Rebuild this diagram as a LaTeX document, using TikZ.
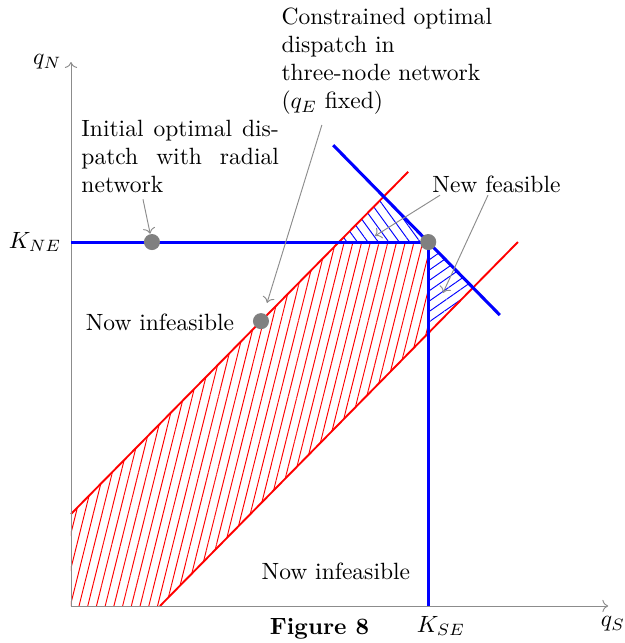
\documentclass[tikz,border=0pt]{standalone}
\usepackage{amsmath}
\usetikzlibrary{arrows.meta,patterns.meta}
\definecolor{axisgray}{HTML}{8C8C8C}
\definecolor{dotgray}{HTML}{808080}
\tikzset{axis/.style={->,thin,axisgray},
kline/.style={blue,line width=1.3pt},
tline/.style={red,line width=.8pt},
redhatch/.style={pattern={Lines[angle=76,distance=3.6pt,line width=.4pt]},pattern color=red},
bluehatch/.style={pattern={Lines[angle=#1,distance=3.6pt,line width=.4pt]},pattern color=blue},
optpt/.style={circle,fill=dotgray,inner sep=0pt,minimum size=.24cm},
lead/.style={->,thin,axisgray},
note/.style={inner sep=0pt,align=left}}

\begin{document}
\begin{tikzpicture}
\useasboundingbox (-1.061,-.553) rectangle (8.266,9.058);
\fill[redhatch] (0,0)--(0,1.375)--(4.005,5.44)--(5.34,5.44)--(5.34,4.078)--(1.33,0)--cycle;
\fill[bluehatch=-54] (4.005,5.44)--(4.674,6.119)--(5.34,5.44)--cycle;
\fill[bluehatch=35] (5.34,5.44)--(6.009,4.758)--(5.34,4.078)--cycle;
\draw[tline] (0,1.375)--(5.04,6.49);
\draw[tline] (1.33,0)--(6.68,5.44);
\draw[axis] (0,0)--(8.03,0);
\draw[axis] (0,0)--(0,8.13);
\draw[kline] (0,5.44)--(5.34,5.44)--(5.34,0);
\draw[kline] (3.92,6.888)--(6.41,4.349);
\node[anchor=east] (qn) at (-.02,8.13) {$q_N$};
\node[anchor=east] (kne) at (-.02,5.44) {$K_{NE}$};
\node (kse) at (5.53,-.30) {$K_{SE}$};
\node (qs) at (8.1,-.27) {$q_S$};
\node (fig) at (3.715,-.344) {\textbf{Figure 8}};
\node[optpt] (radial) at (1.21,5.44) {};
\node[optpt] (meshed) at (2.84,4.258) {};
\node[optpt] (corner) at (5.34,5.44) {};
\node[note,anchor=north west,text width=2.95cm] (initial) at (.15,7.27) {Initial\hfill optimal\hfill dis-\\patch\hfill with\hfill radial\\network};
\node[note,anchor=north west] (constr) at (3.14,8.95) {Constrained optimal\\dispatch in\\three-node network\\($q_E$ fixed)};
\node (infeasup) at (1.33,4.245) {Now infeasible};
\node (infeaslow) at (3.96,.52) {Now infeasible};
\node (newfeas) at (6.36,6.31) {New feasible};
\coordinate (initialfoot) at (1.076,6.08);
\coordinate (constrfoot) at (3.75,7.19);
\coordinate (constrtip) at (2.93,4.53);
\coordinate (newfootl) at (5.516,6.14);
\coordinate (newtipl) at (4.544,5.531);
\coordinate (newfootr) at (6.233,6.14);
\coordinate (newtipr) at (5.56,4.679);
\draw[lead] (initialfoot)--(radial);
\draw[lead] (constrfoot)--(constrtip);
\draw[lead] (newfootl)--(newtipl);
\draw[lead] (newfootr)--(newtipr);
\end{tikzpicture}
\end{document}
